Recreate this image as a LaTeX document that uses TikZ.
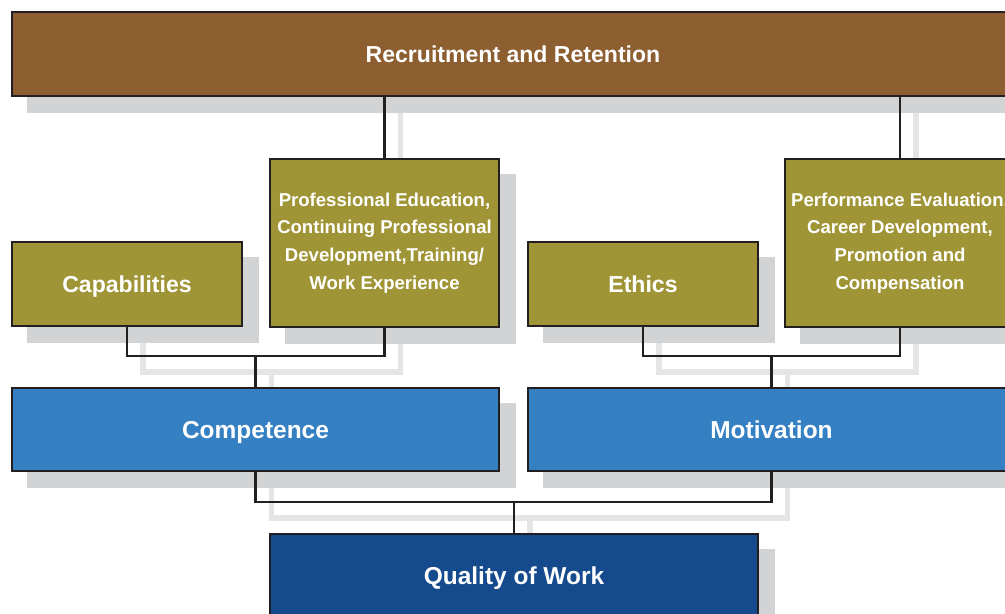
\documentclass[tikz,border=0pt]{standalone}
\usepackage{fontspec}
\setmainfont{Liberation Sans}
\usetikzlibrary{backgrounds,positioning}
\definecolor{recbrown}{HTML}{8C5E30}
\definecolor{factolive}{HTML}{A09536}
\definecolor{midblue}{HTML}{3580C3}
\definecolor{deepblue}{HTML}{154A8C}
\definecolor{boxshade}{HTML}{D1D3D4}
\definecolor{lineshade}{HTML}{E4E5E6}
\definecolor{edgegray}{HTML}{231F20}
\tikzset{
  every picture/.append style={line cap=round,line join=round},
  org base/.style={draw=edgegray,line width=1.6pt,line join=miter,text=white,align=center,inner sep=0pt},
  org box/.style={org base,font=\bfseries\fontsize{16.4}{20}\selectfont,text height=11.8pt,text depth=0pt},
  org big/.style={org base,font=\bfseries\fontsize{17.4}{20}\selectfont,text height=12.5pt,text depth=0pt},
  org small/.style={org base,font=\bfseries\fontsize{13.2}{19.8}\selectfont},
  org link/.style={edgegray,line width=1.6pt,line join=miter},
  org linkshade/.style={lineshade,line width=4pt,line join=miter},
  org shade/.style={fill=boxshade}
}
\begin{document}
\begin{tikzpicture}[x=0.025cm,y=-0.025cm]
\useasboundingbox (0,0) rectangle (1005,613);
% boxes
\node[org box,fill=recbrown,minimum width=25.05cm,minimum height=2.1cm] (rec) at (513,54) {Recruitment and Retention};
\node[org small,fill=factolive,minimum width=5.725cm,minimum height=4.2cm] (profed) at (384.5,243)
  {Professional Education,\\Continuing Professional\\Development,Training/\\Work Experience};
\node[org box,fill=factolive,minimum width=5.75cm,minimum height=2.1cm] (cap) at (127,284) {Capabilities};
\node[org box,fill=factolive,minimum width=5.75cm,minimum height=2.1cm] (ethics) at (643,284) {Ethics};
\node[org small,fill=factolive,minimum width=5.75cm,minimum height=4.2cm] (perf) at (900,243)
  {Performance Evaluation,\\Career Development,\\Promotion and\\Compensation};
\node[org big,fill=midblue,minimum width=12.175cm,minimum height=2.075cm] (comp) at (255.5,429.5) {Competence};
\node[org big,fill=midblue,minimum width=12.175cm,minimum height=2.075cm] (motiv) at (771.5,429.5) {Motivation};
\node[org big,fill=deepblue,minimum width=12.2cm,minimum height=2.1cm] (quality) at (514,576) {Quality of Work};
% junctions
\coordinate (capbar) at (255.5,356);
\coordinate (ethbar) at (771.5,356);
\coordinate (qualbar) at (514,502);
% connectors
\draw[org link] (rec.south -| profed.north) -- (profed.north);
\draw[org link] (rec.south -| perf.north) -- (perf.north);
\draw[org link] (cap.south) |- (capbar) -| (profed.south);
\draw[org link] (capbar) -- (comp.north);
\draw[org link] (ethics.south) |- (ethbar) -| (perf.south);
\draw[org link] (ethbar) -- (motiv.north);
\draw[org link] (comp.south) |- (qualbar) -| (motiv.south);
\draw[org link] (qualbar) -- (quality.north);
% shadows
\begin{scope}[on background layer]
\begin{scope}[transform canvas={xshift=0.4cm,yshift=-0.4cm}]
\draw[org linkshade] (rec.south -| profed.north) -- (profed.north);
\draw[org linkshade] (rec.south -| perf.north) -- (perf.north);
\draw[org linkshade] (cap.south) |- (capbar) -| (profed.south);
\draw[org linkshade] (capbar) -- (comp.north);
\draw[org linkshade] (ethics.south) |- (ethbar) -| (perf.south);
\draw[org linkshade] (ethbar) -- (motiv.north);
\draw[org linkshade] (comp.south) |- (qualbar) -| (motiv.south);
\draw[org linkshade] (qualbar) -- (quality.north);
\foreach \b in {rec,profed,cap,ethics,perf,comp,motiv,quality}
  \fill[org shade] (\b.north west) rectangle (\b.south east);
\end{scope}
\end{scope}
\end{tikzpicture}
\end{document}
